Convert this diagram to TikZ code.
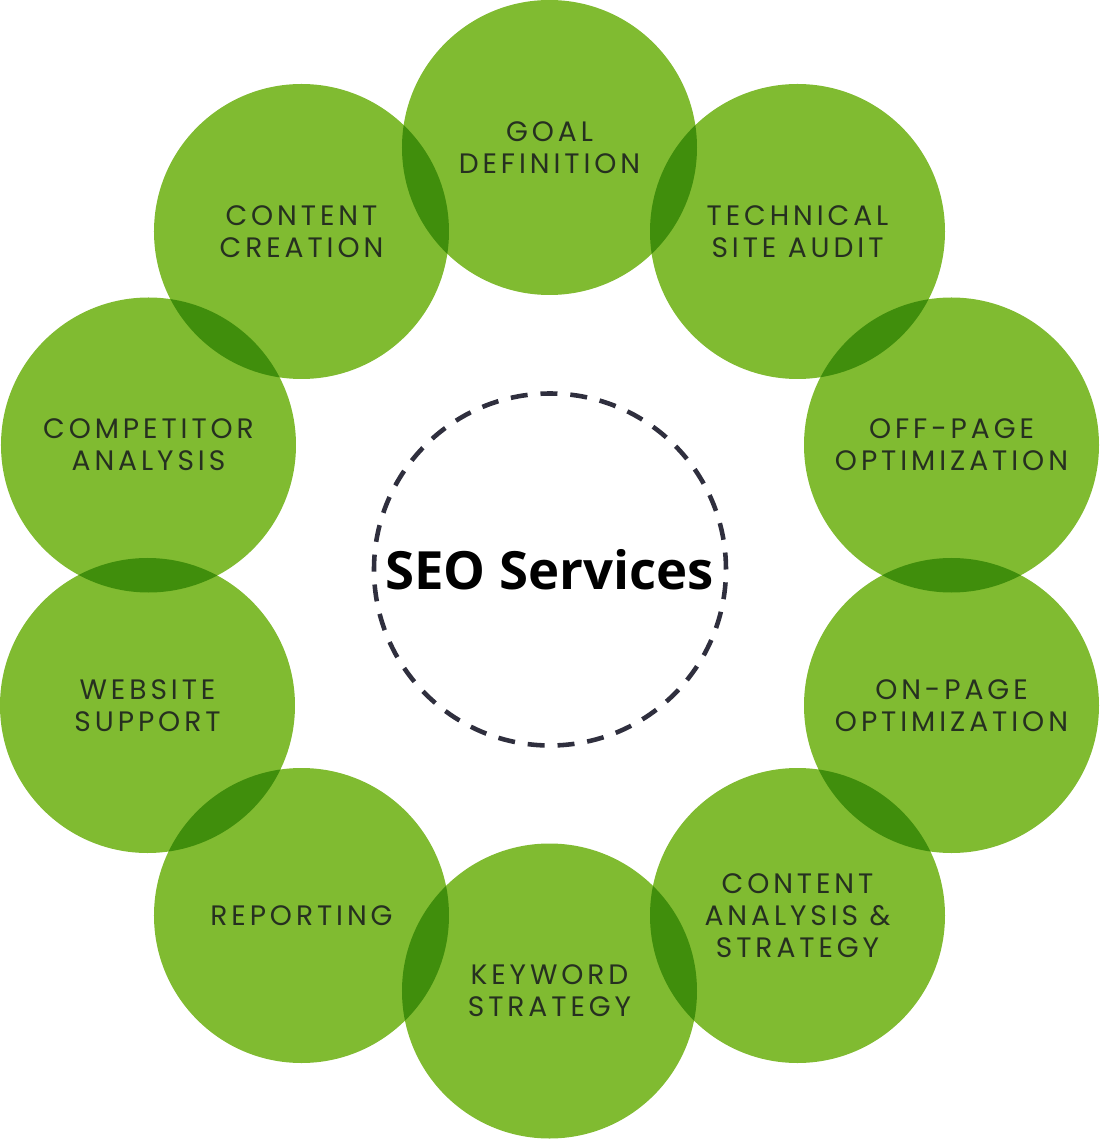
\documentclass[tikz,border=0pt]{standalone}
\usepackage{fontspec}
\setmainfont{Poppins}
\newfontfamily\seofont{Open Sans}
\usetikzlibrary{positioning}
\definecolor{seolight}{RGB}{128,187,49}
\definecolor{seodark}{RGB}{64,142,12}
\definecolor{seotext}{RGB}{38,48,32}
\definecolor{seoring}{RGB}{47,47,62}
\tikzset{
  bub/.style={fill=seolight},
  lens/.style={fill=seodark},
  blab/.style={align=center, text=seotext, inner sep=0pt,
    font=\fontsize{16}{18.2}\selectfont\addfontfeature{LetterSpace=14}},
  hub/.style={draw=seoring, line width=2.6pt, dash pattern=on 0.34cm off 0.258cm},
  ttl/.style={font=\seofont\bfseries\fontsize{30}{34}\selectfont, inner sep=0pt},
}

\begin{document}
\begin{tikzpicture}[x=0.02cm,y=0.02cm]
  \useasboundingbox (-549.5,-569.5) rectangle (550.5,569.5);
  \foreach \n/\x/\y in {goal/0/422, audit/248/338, offpage/402/124.5,
      onpage/402/-136, analysis/248/-346, keyword/0/-421.5,
      report/-248/-346, support/-402/-136, rivals/-401/124.5,
      creation/-248/338} {
    \coordinate (c-\n) at (\x,\y);
    \fill[bub] (c-\n) circle (147.5);}
  \foreach \p/\q in {goal/audit, audit/offpage, offpage/onpage,
      onpage/analysis, analysis/keyword, keyword/report, report/support,
      support/rivals, rivals/creation, creation/goal} {
    \begin{scope}
      \clip (c-\p) circle (147.5);
      \fill[lens] (c-\q) circle (147.5);
    \end{scope}}
  \foreach \n/\t in {goal/{GOAL\\DEFINITION},
      audit/{TECHNICAL\\SITE AUDIT},
      offpage/{OFF-PAGE\\OPTIMIZATION},
      onpage/{ON-PAGE\\OPTIMIZATION},
      analysis/{CONTENT\\ANALYSIS \&\\STRATEGY},
      keyword/{KEYWORD\\STRATEGY},
      report/{REPORTING},
      support/{WEBSITE\\SUPPORT},
      rivals/{COMPETITOR\\ANALYSIS},
      creation/{CONTENT\\CREATION}}
    \node[blab] (\n) at (c-\n) {\t};
  \draw[hub] (0.5,0) circle (176);
  \node[ttl] (seo) at (0,-0.5) {SEO Services};
\end{tikzpicture}
\end{document}
